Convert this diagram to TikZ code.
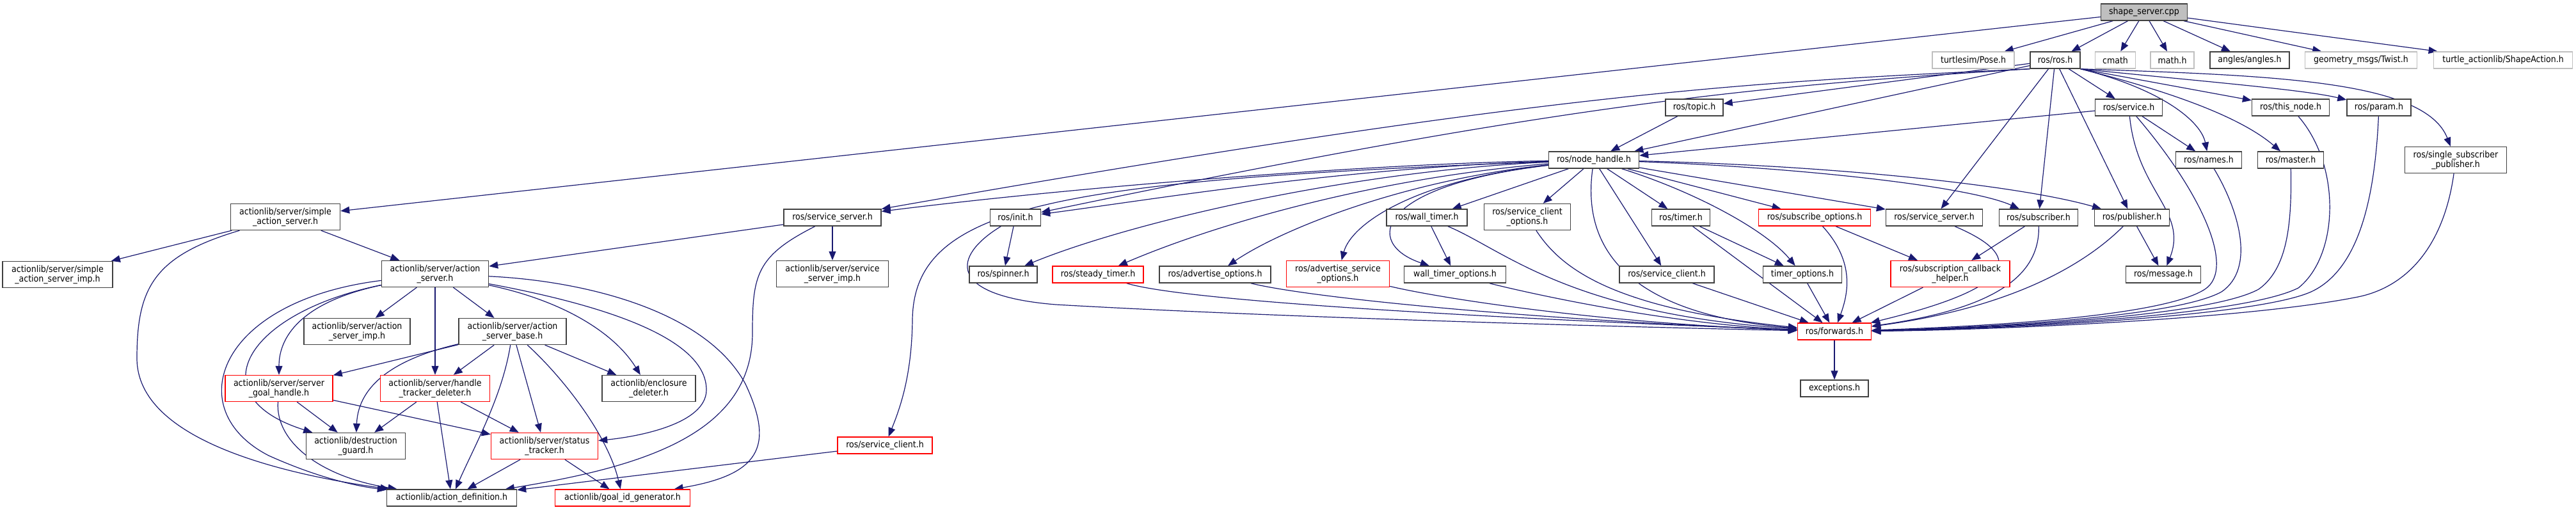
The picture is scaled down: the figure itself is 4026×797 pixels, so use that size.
\documentclass[tikz,border=0pt]{standalone}
\usepackage{fontspec}
\setmainfont{DejaVu Sans Condensed}
\usetikzlibrary{arrows.meta}
\pgfdeclarelayer{edges}
\pgfsetlayers{edges,main}
\definecolor{edgec}{HTML}{191970}
\definecolor{nodeborder}{HTML}{404040}
\definecolor{grayborder}{HTML}{BFBFBF}
\definecolor{fillgray}{HTML}{BFBFBF}
\tikzset{
  box/.style={draw=nodeborder, line width=1.4pt, fill=white, inner xsep=3pt, inner ysep=0pt,
    minimum height=26pt, align=center, font=\fontsize{14}{15}\selectfont},
  two/.style={minimum height=41pt},
  redbox/.style={box, draw=red},
  graybox/.style={box, draw=grayborder},
  rootbox/.style={box, fill=fillgray},
  e/.style={draw=edgec, line width=1.2pt, -{Triangle[length=14pt,width=11pt]}},
}
\begin{document}
\begin{tikzpicture}[x=1pt,y=-1pt]
\useasboundingbox (0,0) rectangle (4026,797);
% rank 0
\node[rootbox, minimum width=135pt] (ss) at (3351,19) {shape\_server.cpp};
% rank 1
\node[graybox, minimum width=128pt] (pose) at (3084,94) {turtlesim/Pose.h};
\node[box, minimum width=78pt] (rosh) at (3212,94) {ros/ros.h};
\node[graybox, minimum width=63pt] (cmath) at (3306,94) {cmath};
\node[graybox, minimum width=68pt] (math) at (3395,94) {math.h};
\node[box, minimum width=124pt] (angles) at (3516,94) {angles/angles.h};
\node[graybox, minimum width=175pt] (twist) at (3690,94) {geometry\_msgs/Twist.h};
\node[graybox, minimum width=217pt] (shape) at (3912,94) {turtle\_actionlib/ShapeAction.h};
% rank 2
\node[box, minimum width=90pt] (topic) at (2648,168) {ros/topic.h};
\node[box, minimum width=105pt] (service) at (3327,168) {ros/service.h};
\node[box, minimum width=121pt] (thisnode) at (3580,168) {ros/this\_node.h};
\node[box, minimum width=100pt] (param) at (3718,168) {ros/param.h};
% rank 3
\node[box, minimum width=141pt] (nh) at (2491,250) {ros/node\_handle.h};
\node[box, minimum width=103pt] (names) at (3452,250) {ros/names.h};
\node[box, minimum width=103pt] (master) at (3580,250) {ros/master.h};
\node[box, two, minimum width=159pt] (ssp) at (3838,250) {ros/single\_subscriber\\\_publisher.h};
% rank 4
\node[box, two, minimum width=171pt] (sas) at (446,339) {actionlib/server/simple\\\_action\_server.h};
\node[box, minimum width=152pt] (ssl) at (1301,340) {ros/service\_server.h};
\node[box, minimum width=79pt] (init) at (1587,340) {ros/init.h};
\node[box, minimum width=126pt] (wt) at (2230,340) {ros/wall\_timer.h};
\node[box, two, minimum width=135pt] (sco) at (2387,339) {ros/service\_client\\\_options.h};
\node[box, minimum width=91pt] (timer) at (2627,340) {ros/timer.h};
\node[redbox, minimum width=175pt] (subopt) at (2836,340) {ros/subscribe\_options.h};
\node[box, minimum width=151pt] (ssr) at (3023,340) {ros/service\_server.h};
\node[box, minimum width=123pt] (sub) at (3186,340) {ros/subscriber.h};
\node[box, minimum width=117pt] (pub) at (3332,340) {ros/publisher.h};
% rank 5
\node[box, two, minimum width=172pt] (sasimp) at (90,429) {actionlib/server/simple\\\_action\_server\_imp.h};
\node[box, two, minimum width=167pt] (as) at (680,428) {actionlib/server/action\\\_server.h};
\node[box, two, minimum width=175pt] (ssimp) at (1301,428) {actionlib/server/service\\\_server\_imp.h};
\node[box, minimum width=106pt] (spinner) at (1568,429) {ros/spinner.h};
\node[redbox, minimum width=142pt] (steady) at (1716,429) {ros/steady\_timer.h};
\node[box, minimum width=174pt] (advopt) at (1899,429) {ros/advertise\_options.h};
\node[redbox, two, minimum width=161pt] (advsopt) at (2091,428) {ros/advertise\_service\\\_options.h};
\node[box, minimum width=159pt] (wto) at (2274,429) {wall\_timer\_options.h};
\node[box, minimum width=148pt] (scr) at (2605,429) {ros/service\_client.h};
\node[box, minimum width=123pt] (tmo) at (2817,429) {timer\_options.h};
\node[redbox, two, minimum width=186pt] (sch) at (3048,428) {ros/subscription\_callback\\\_helper.h};
\node[box, minimum width=117pt] (msg) at (3381,429) {ros/message.h};
% rank 6
\node[box, two, minimum width=166pt] (asimp) at (558,518) {actionlib/server/action\\\_server\_imp.h};
\node[box, two, minimum width=168pt] (asb) at (801,518) {actionlib/server/action\\\_server\_base.h};
\node[redbox, minimum width=115pt] (fwd) at (2867,518) {ros/forwards.h};
% rank 7
\node[redbox, two, minimum width=168pt] (sgh) at (436,607) {actionlib/server/server\\\_goal\_handle.h};
\node[redbox, two, minimum width=171pt] (htd) at (680,607) {actionlib/server/handle\\\_tracker\_deleter.h};
\node[box, two, minimum width=146pt] (encl) at (1014,607) {actionlib/enclosure\\\_deleter.h};
\node[box, minimum width=106pt] (exc) at (2867,607) {exceptions.h};
% rank 8
\node[redbox, minimum width=148pt] (scl) at (1383,696) {ros/service\_client.h};
\node[box, two, minimum width=155pt] (dg) at (556,697) {actionlib/destruction\\\_guard.h};
\node[redbox, two, minimum width=167pt] (st) at (851,697) {actionlib/server/status\\\_tracker.h};
% rank 9
\node[box, minimum width=203pt] (ad) at (706,778) {actionlib/action\_definition.h};
\node[redbox, minimum width=211pt] (gid) at (973,778) {actionlib/goal\_id\_generator.h};

\begin{pgfonlayer}{edges}
% ---- edges from shape_server.cpp
\draw[e] (ss) -- (sas);
\draw[e] (ss) -- (pose);
\draw[e] (ss) -- (rosh);
\draw[e] (ss) -- (cmath);
\draw[e] (ss) -- (math);
\draw[e] (ss) -- (angles);
\draw[e] (ss) -- (twist);
\draw[e] (ss) -- (shape);
% ---- edges from ros/ros.h
\draw[e] (rosh) -- (topic);
\draw[e] (rosh) -- (nh);
\draw[e] (rosh.south west) .. controls (2750,128) and (2450,138) .. (ssl);
\draw[e] (rosh.south west) .. controls (2750,134) and (2450,160) .. (init);
\draw[e] (rosh) -- (service);
\draw[e] (rosh) -- (ssr);
\draw[e] (rosh) -- (sub);
\draw[e] (rosh) -- (pub);
\draw[e] (rosh.south east) .. controls (3380,140) and (3440,190) .. (names);
\draw[e] (rosh.south east) .. controls (3420,150) and (3510,190) .. (master);
\draw[e] (rosh.south east) -- (thisnode);
\draw[e] (rosh.south east) .. controls (3450,128) and (3600,140) .. (param);
\draw[e] (rosh.south east) .. controls (3550,118) and (3790,125) .. (ssp);
% ---- ros/service.h
\draw[e] (service) -- (nh);
\draw[e] (service) -- (names);
\draw[e] (service) .. controls (3340,300) and (3420,330) .. (msg);
\draw[e] (service) .. controls (3440,300) and (3495,420) .. (3446,452) .. controls (3380,495) and (3100,510) .. (fwd);
% ---- ros/topic.h
\draw[e] (topic) -- (nh);
% ---- right side to forwards
\draw[e] (names) .. controls (3500,330) and (3525,420) .. (3472,456) .. controls (3400,496) and (3100,512) .. (fwd);
\draw[e] (master) .. controls (3582,350) and (3575,420) .. (3530,452) .. controls (3450,496) and (3100,513) .. (fwd);
\draw[e] (thisnode) .. controls (3660,260) and (3655,400) .. (3592,450) .. controls (3500,496) and (3100,514) .. (fwd);
\draw[e] (param) .. controls (3712,300) and (3690,420) .. (3612,456) .. controls (3520,497) and (3100,515) .. (fwd);
\draw[e] (ssp) .. controls (3820,380) and (3765,450) .. (3680,465) .. controls (3500,500) and (3100,516) .. (fwd);
\draw[e] (pub) .. controls (3262,410) and (3150,480) .. (fwd);
\draw[e] (pub) -- (msg);
\draw[e] (sub) .. controls (3188,430) and (3120,482) .. (fwd);
\draw[e] (sub) -- (sch);
\draw[e] (ssr) .. controls (3140,390) and (3190,440) .. (fwd);
\draw[e] (sch) -- (fwd);
\draw[e] (subopt) -- (sch);
\draw[e] (subopt) .. controls (2900,410) and (2888,460) .. (fwd);
% ---- node_handle.h
\draw[e] (nh) -- (sco);
\draw[e] (nh) -- (scr);
\draw[e] (nh) -- (timer);
\draw[e] (nh) .. controls (2650,300) and (2760,360) .. (tmo);
\draw[e] (nh) -- (subopt);
\draw[e] (nh) -- (ssr);
\draw[e] (nh) .. controls (2820,262) and (3080,292) .. (sub);
\draw[e] (nh) .. controls (2850,258) and (3150,288) .. (pub);
\draw[e] (nh) .. controls (2470,400) and (2560,492) .. (fwd);
\draw[e] (nh) -- (wt);
\draw[e] (nh) .. controls (2150,290) and (2130,380) .. (wto);
\draw[e] (nh) .. controls (2210,282) and (2112,350) .. (advsopt);
\draw[e] (nh) .. controls (2190,282) and (2000,360) .. (advopt);
\draw[e] (nh) .. controls (2150,278) and (1900,350) .. (steady);
\draw[e] (nh) .. controls (2100,268) and (1760,350) .. (spinner);
\draw[e] (nh) .. controls (2100,262) and (1800,312) .. (init);
\draw[e] (nh) .. controls (2150,256) and (1700,290) .. (ssl);
\draw[e] (nh) .. controls (1650,282) and (1428,320) .. (1426,500) .. controls (1425,580) and (1410,630) .. (scl);
% ---- to forwards from the left
\draw[e] (init) .. controls (1488,400) and (1478,462) .. (1650,476) .. controls (2000,496) and (2500,510) .. (fwd);
\draw[e] (steady) .. controls (1850,470) and (2300,496) .. (fwd);
\draw[e] (advopt) .. controls (2050,466) and (2400,500) .. (fwd);
\draw[e] (advsopt) .. controls (2250,466) and (2500,505) .. (fwd);
\draw[e] (wto) .. controls (2380,456) and (2600,506) .. (fwd);
\draw[e] (wt) -- (wto);
\draw[e] (wt) .. controls (2350,390) and (2450,490) .. (fwd);
\draw[e] (sco) .. controls (2440,420) and (2520,482) .. (fwd);
\draw[e] (scr) -- (fwd);
\draw[e] (timer) -- (fwd);
\draw[e] (timer) -- (tmo);
\draw[e] (tmo) -- (fwd);
\draw[e] (fwd) -- (exc);
% ---- init
\draw[e] (init) -- (spinner);
% ---- left service_server
\draw[e] (ssl) -- (ssimp);
\draw[e] (ssl) -- (as);
\draw[e] (ssl) .. controls (1182,400) and (1176,430) .. (1176,520) .. controls (1176,680) and (1000,730) .. (ad);
\draw[e] (scl) -- (ad);
% ---- simple_action_server
\draw[e] (sas) -- (sasimp);
\draw[e] (sas) -- (as);
\draw[e] (sas) .. controls (240,400) and (214,450) .. (214,560) .. controls (214,690) and (450,742) .. (ad);
% ---- action_server
\draw[e] (as) -- (asimp);
\draw[e] (as) -- (htd);
\draw[e] (as) -- (asb);
\draw[e] (as) .. controls (480,470) and (436,520) .. (sgh);
\draw[e] (as) .. controls (380,490) and (310,620) .. (dg);
\draw[e] (as) .. controls (340,470) and (280,640) .. (420,712) .. controls (500,748) and (560,760) .. (ad);
\draw[e] (as) .. controls (880,470) and (960,520) .. (encl);
\draw[e] (as) .. controls (950,478) and (1105,530) .. (1104,610) .. controls (1103,662) and (1000,682) .. (st);
\draw[e] (as) .. controls (900,438) and (1100,480) .. (1165,600) .. controls (1212,700) and (1185,742) .. (gid);
% ---- action_server_base
\draw[e] (asb) -- (sgh);
\draw[e] (asb) .. controls (620,560) and (560,600) .. (dg);
\draw[e] (asb) -- (htd);
\draw[e] (asb) .. controls (785,620) and (740,700) .. (ad);
\draw[e] (asb) -- (st);
\draw[e] (asb) .. controls (880,590) and (950,680) .. (gid);
\draw[e] (asb) -- (encl);
% ---- server_goal_handle
\draw[e] (sgh) -- (dg);
\draw[e] (sgh) -- (st);
\draw[e] (sgh) .. controls (430,690) and (500,745) .. (ad);
% ---- handle_tracker_deleter
\draw[e] (htd) -- (dg);
\draw[e] (htd) -- (ad);
\draw[e] (htd) -- (st);
% ---- status_tracker
\draw[e] (st) -- (ad);
\draw[e] (st) -- (gid);
\end{pgfonlayer}
\end{tikzpicture}
\end{document}
